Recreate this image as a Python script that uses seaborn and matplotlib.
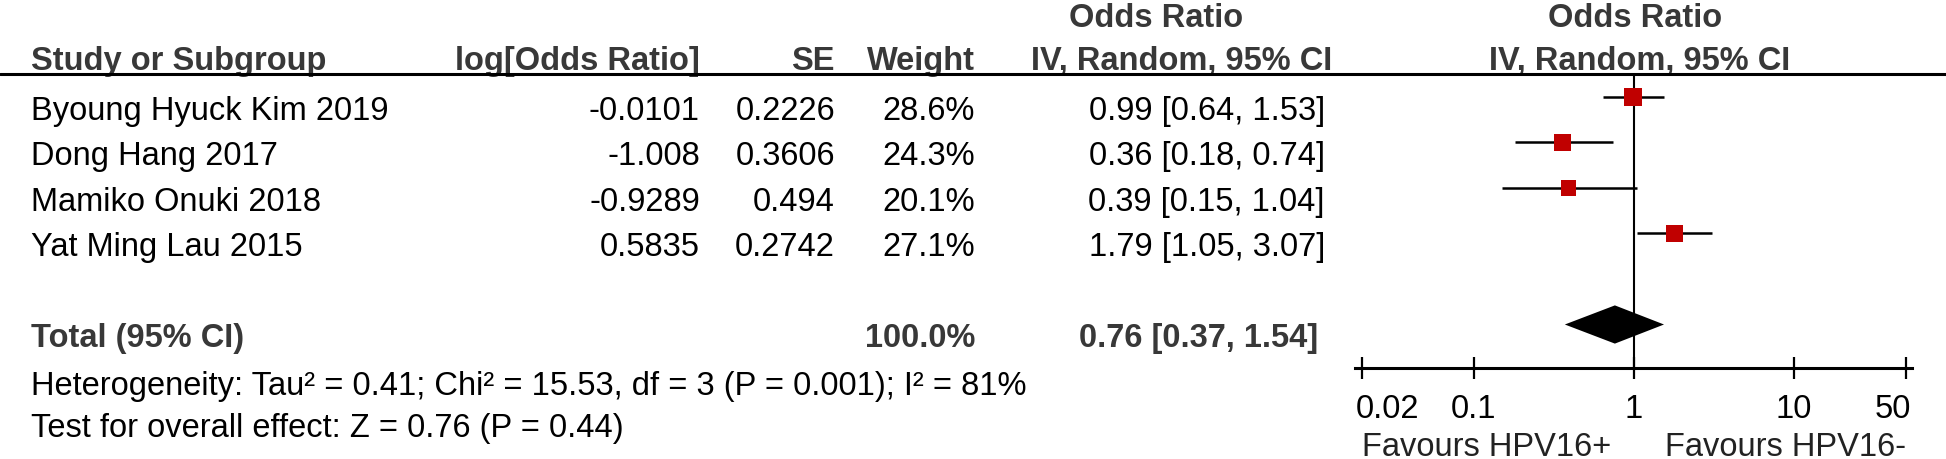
import seaborn as sns
import matplotlib.pyplot as plt
import pandas as pd
from matplotlib.lines import Line2D
from matplotlib.ticker import NullLocator
from matplotlib.transforms import blended_transform_factory, ScaledTranslation

# Forest plot data
studies = ["Byoung Hyuck Kim 2019", "Dong Hang 2017", "Mamiko Onuki 2018", "Yat Ming Lau 2015"]
log_or = ["-0.0101", "-1.008", "-0.9289", "0.5835"]
se = ["0.2226", "0.3606", "0.494", "0.2742"]
weights = [28.6, 24.3, 20.1, 27.1]
odds = [0.99, 0.36, 0.39, 1.79]
ci_lo = [0.64, 0.18, 0.15, 1.05]
ci_hi = [1.53, 0.74, 1.04, 3.07]
total_or, total_lo, total_hi = 0.76, 0.37, 1.54
total_weight = 100.0
heterogeneity = "Heterogeneity: Tau² = 0.41; Chi² = 15.53, df = 3 (P = 0.001); I² = 81%"
overall = "Test for overall effect: Z = 0.76 (P = 0.44)"
x_ticks = [0.02, 0.1, 1, 10, 50]
x_tick_labels = ["0.02", "0.1", "1", "10", "50"]

rows = list(range(len(studies)))
total_row = 5

df = pd.DataFrame({"study": studies, "row": rows, "or": odds,
                   "lo": ci_lo, "hi": ci_hi, "weight": weights})

sns.set_theme(style="white")
plt.rcParams["font.family"] = ["Liberation Sans", "DejaVu Sans"]

W, H = 1946, 460
fig = plt.figure(figsize=(W / 100, H / 100), dpi=100)
ax = fig.add_axes([1355 / W, 1 - 369 / H, (1912 - 1355) / W, (369 - 75) / H])

# CI lines, squares, diamond
ax.hlines(df["row"], df["lo"], df["hi"], color="black", lw=1.8, zorder=2)
sns.scatterplot(data=df, x="or", y="row", size="weight", sizes=(123, 175),
                size_norm=(20.1, 28.6), marker="s", color="#c00000",
                linewidth=0, legend=False, ax=ax, zorder=3)
h = 0.42
ax.fill([total_lo, total_or, total_hi, total_or],
        [total_row, total_row - h, total_row, total_row + h],
        color="black", lw=0, zorder=3)
ax.axvline(1, color="black", lw=1.5, zorder=1)

ax.set_xscale("log")
ax.set_xlim(0.0181, 54.5)
ax.set_ylim(5.956, -0.505)
ax.set_xticks(x_ticks)
ax.set_xticklabels(x_tick_labels)
ax.xaxis.set_minor_locator(NullLocator())
ax.set_yticks([])
ax.set_xlabel("")
ax.set_ylabel("")
for s in ["left", "right", "top"]:
    ax.spines[s].set_visible(False)
ax.spines["bottom"].set_color("black")
ax.spines["bottom"].set_linewidth(2.2)
ax.tick_params(axis="x", direction="inout", length=16.5, width=1.6, pad=9.5,
               labelsize=23.5, colors="black", bottom=True)
ticks = ax.xaxis.get_major_ticks()
ticks[0].label1.set_horizontalalignment("left")
ticks[0].label1.set_transform(ticks[0].label1.get_transform()
                              + ScaledTranslation(-0.06, 0, fig.dpi_scale_trans))
ticks[-1].label1.set_horizontalalignment("right")
ticks[-1].label1.set_transform(ticks[-1].label1.get_transform()
                               + ScaledTranslation(0.05, 0, fig.dpi_scale_trans))

# header rule across whole figure
fig.add_artist(Line2D([0, 1], [1 - 75 / H, 1 - 75 / H], transform=fig.transFigure,
                      color="black", lw=2.2))

trans = blended_transform_factory(fig.transFigure, ax.transData)
FS = 23.5
HEAD = "#383838"


def put(xpx, y, s, ha="left", bold=False, color="black"):
    ax.text(xpx / W, y, s, transform=trans, ha=ha, va="baseline", fontsize=FS,
            fontweight="bold" if bold else "normal", color=color, clip_on=False)


# headers
put(1156, -1.56, "Odds Ratio", "center", True, HEAD)
put(1635, -1.56, "Odds Ratio", "center", True, HEAD)
put(31, -0.615, "Study or Subgroup", "left", True, HEAD)
put(700, -0.615, "log[Odds Ratio]", "right", True, HEAD)
put(835, -0.615, "SE", "right", True, HEAD)
put(975, -0.615, "Weight", "right", True, HEAD)
put(1182, -0.615, "IV, Random, 95% CI", "center", True, HEAD)
put(1640, -0.615, "IV, Random, 95% CI", "center", True, HEAD)

# study rows
off = 0.48
for i, r in df.iterrows():
    y = r["row"] + off
    put(31, y, r["study"])
    put(700, y, log_or[i], "right")
    put(835, y, se[i], "right")
    put(975, y, f"{r['weight']:.1f}%", "right")
    put(1325, y, f"{r['or']:.2f} [{r['lo']:.2f}, {r['hi']:.2f}]", "right")

# total
put(31, total_row + off, "Total (95% CI)", "left", True, HEAD)
put(975, total_row + off, f"{total_weight:.1f}%", "right", True, HEAD)
put(1318, total_row + off, f"{total_or:.2f} [{total_lo:.2f}, {total_hi:.2f}]",
    "right", True, HEAD)

put(31, 6.53, heterogeneity)
put(31, 7.45, overall)

# favours labels
ax.text(x_ticks[0], 7.87, "Favours HPV16+", ha="left", va="baseline",
        fontsize=FS, color="#222222", clip_on=False)
ax.text(x_ticks[-1], 7.87, "Favours HPV16-", ha="right", va="baseline",
        fontsize=FS, color="#222222", clip_on=False)

fig.savefig("out.png", dpi=100)
plt.close(fig)
